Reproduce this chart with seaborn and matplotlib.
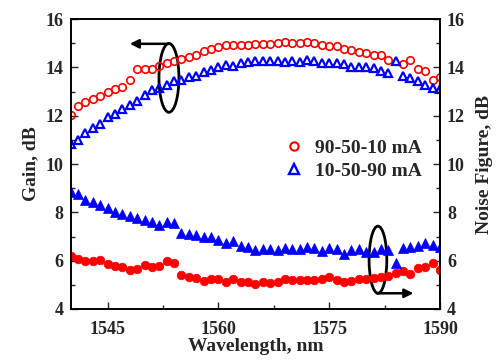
import numpy as np
import pandas as pd
import matplotlib
matplotlib.use("Agg")
import matplotlib.pyplot as plt
from matplotlib.patches import Ellipse
from matplotlib.lines import Line2D
import seaborn as sns

# ---------------- data ----------------
wavelength = list(range(1540, 1591))

gain_90_50_10 = [12.05, 12.40, 12.58, 12.69, 12.81, 13.00, 13.09, 13.20, 13.50, 13.92,
                 13.92, 13.95, 14.06, 14.20, 14.26, 14.34, 14.44, 14.50, 14.68, 14.75,
                 14.85, 14.95, 14.95, 14.95, 14.95, 14.98, 14.99, 14.97, 15.02, 15.05,
                 15.02, 15.02, 15.06, 15.02, 14.92, 14.88, 14.90, 14.77, 14.72, 14.66,
                 14.60, 14.53, 14.50, 14.33, np.nan, 14.14, 14.32, 13.95, 13.86, 13.49,
                 13.61]

gain_10_50_90 = [10.85, 11.00, 11.27, 11.48, 11.68, 11.93, 12.07, 12.28, 12.44, 12.62,
                 12.86, 13.06, 13.17, 13.27, 13.43, 13.50, 13.59, 13.65, 13.82, 13.89,
                 14.03, 14.10, 14.08, 14.17, 14.23, 14.28, 14.28, 14.28, 14.28, 14.24,
                 14.26, 14.24, 14.30, 14.26, 14.17, 14.19, 14.20, 14.14, 14.03, 14.03,
                 14.03, 13.96, 13.85, 13.78, 14.26, 13.64, 13.55, 13.43, 13.27, 13.17,
                 13.09]

nf_90_50_10 = [6.19, 6.09, 5.99, 5.99, 6.03, 5.86, 5.78, 5.73, 5.62, 5.67,
               5.81, 5.73, 5.80, 5.99, 5.92, 5.41, 5.31, 5.30, 5.17, 5.24,
               5.24, 5.12, 5.24, 5.13, 5.13, 5.04, 5.13, 5.07, 5.13, 5.23,
               5.20, 5.20, 5.20, 5.20, 5.24, 5.34, 5.20, 5.10, 5.15, 5.24,
               5.23, 5.27, 5.31, 5.38, 5.51, 5.59, 5.44, 5.69, 5.73, 5.92,
               5.62]

nf_10_50_90 = [8.86, 8.76, 8.51, 8.44, 8.30, 8.17, 8.00, 7.93, 7.85, 7.75,
               7.68, 7.61, 7.48, 7.59, 7.55, 7.13, 7.10, 7.06, 6.99, 6.99,
               6.86, 6.72, 6.83, 6.61, 6.55, 6.44, 6.47, 6.47, 6.44, 6.54,
               6.47, 6.50, 6.58, 6.54, 6.41, 6.54, 6.50, 6.28, 6.45, 6.48,
               6.38, 6.36, 6.47, 6.45, 5.89, 6.54, 6.58, 6.61, 6.75, 6.67,
               6.58]

series_labels = ["90-50-10 mA", "10-50-90 mA"]
x_ticks = [1545, 1560, 1575, 1590]
y_ticks = [4, 6, 8, 10, 12, 14, 16]

# ---------------- style ----------------
sns.set_style("ticks")
plt.rcParams['font.family'] = ['Liberation Serif', 'DejaVu Serif']
plt.rcParams['font.weight'] = 'bold'
plt.rcParams['axes.labelweight'] = 'bold'

RED = "#ff0000"
BLUE = "#0000ff"

fig = plt.figure(figsize=(4.98, 3.6), dpi=100)
ax = fig.add_axes([0.142, 0.1417, 0.7415, 0.805])
ax2 = ax.twinx()

df = pd.DataFrame({"wl": wavelength, "g1": gain_90_50_10, "g2": gain_10_50_90,
                   "n1": nf_90_50_10, "n2": nf_10_50_90})

# gain (hollow markers)
sns.lineplot(data=df, x="wl", y="g1", ax=ax, marker="o", linestyle="", color=RED,
             markerfacecolor="none", markeredgecolor=RED, markersize=5.4,
             markeredgewidth=1.2)
sns.lineplot(data=df, x="wl", y="g2", ax=ax, marker="^", linestyle="", color=BLUE,
             markerfacecolor="none", markeredgecolor=BLUE, markersize=6.4,
             markeredgewidth=1.6)

# noise figure (filled markers)
sns.lineplot(data=df, x="wl", y="n1", ax=ax2, marker="o", linestyle="", color=RED,
             markerfacecolor=RED, markeredgecolor=RED, markersize=6.2,
             markeredgewidth=0.5)
sns.lineplot(data=df, x="wl", y="n2", ax=ax2, marker="^", linestyle="", color=BLUE,
             markerfacecolor=BLUE, markeredgecolor=BLUE, markersize=7,
             markeredgewidth=0.5)

for a in (ax, ax2):
    a.set_xlim(1540, 1590)
    a.set_ylim(4, 16)
    a.set_yticks(y_ticks)
    a.set_yticks([5, 7, 9, 11, 13, 15], minor=True)

ax.set_xticks(x_ticks)
ax.set_xticks([1552.5, 1567.5, 1582.5], minor=True)

ax.tick_params(axis='y', which='major', direction='in', length=5, width=1,
               labelsize=13, left=True, right=False, pad=5)
ax.tick_params(axis='x', which='major', direction='in', length=5, width=1,
               labelsize=13, top=False, pad=9)
ax.tick_params(axis='both', which='minor', direction='in', length=3, width=1,
               top=False, right=False)
ax2.tick_params(axis='y', which='major', direction='in', length=5, width=1,
                labelsize=13, pad=5)
ax2.tick_params(axis='y', which='minor', direction='in', length=3, width=1)

for lab in ax.get_xticklabels() + ax.get_yticklabels() + ax2.get_yticklabels():
    lab.set_fontweight('bold')

for a in (ax, ax2):
    for s in a.spines.values():
        s.set_visible(True)
        s.set_linewidth(1.2)
        s.set_color('black')

ax.set_xlabel("Wavelength, nm", fontsize=14, fontweight='bold', labelpad=0)
ax.set_ylabel("Gain, dB", fontsize=14, fontweight='bold', labelpad=5)
ax2.set_ylabel("Noise Figure, dB", fontsize=14, fontweight='bold', labelpad=8,
               rotation=90)

# legend
handles = [
    Line2D([], [], marker="o", linestyle="", markerfacecolor="none",
           markeredgecolor=RED, markersize=6, markeredgewidth=1.5),
    Line2D([], [], marker="^", linestyle="", markerfacecolor="none",
           markeredgecolor=BLUE, markersize=7, markeredgewidth=1.7),
]
ax2.legend(handles, series_labels, loc="center left", bbox_to_anchor=(0.53, 0.515),
           frameon=False, handlelength=1.0, handletextpad=0.6, labelspacing=0.3,
           prop={'family': 'Liberation Serif', 'weight': 'bold', 'size': 14})

# annotations: ellipses with arrows
ax.add_patch(Ellipse((1553.3, 13.57), 2.7, 2.85, fill=False, lw=2, ec='black'))
ax.annotate('', xy=(1548.0, 14.98), xytext=(1553.4, 14.98),
            arrowprops=dict(arrowstyle='-|>', lw=1.8, color='black',
                            mutation_scale=13, shrinkA=0, shrinkB=0))
ax.add_patch(Ellipse((1581.6, 6.04), 2.4, 2.78, fill=False, lw=2, ec='black'))
ax.annotate('', xy=(1586.4, 4.65), xytext=(1581.5, 4.65),
            arrowprops=dict(arrowstyle='-|>', lw=1.8, color='black',
                            mutation_scale=13, shrinkA=0, shrinkB=0))

fig.savefig("out.png", dpi=100)
